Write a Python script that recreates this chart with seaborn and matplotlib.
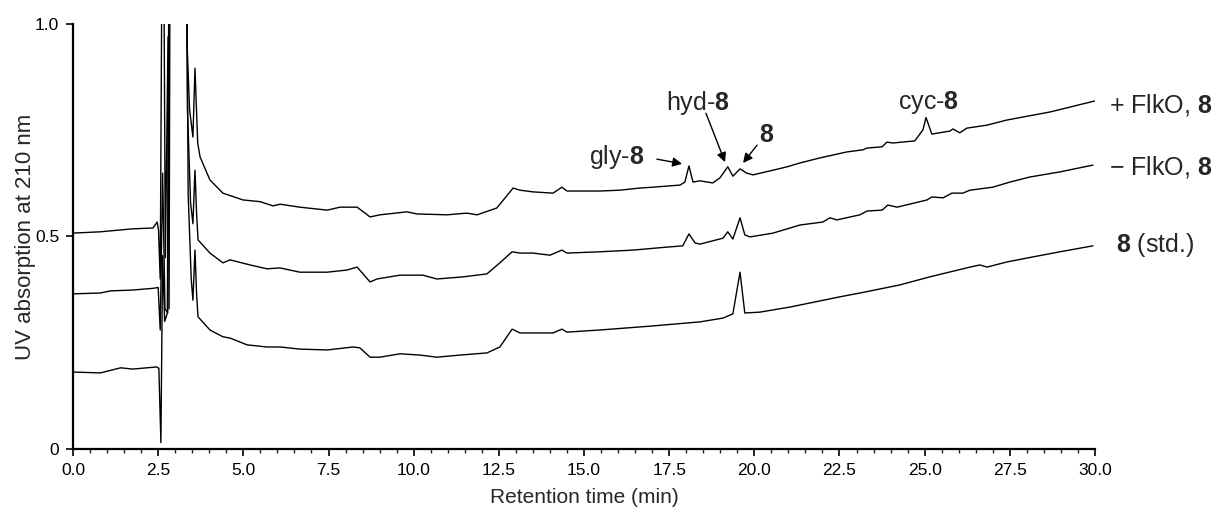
import matplotlib
matplotlib.use("Agg")
import matplotlib.pyplot as plt
import pandas as pd
import seaborn as sns

# retention time (min) and absorbance
# trace A: + FlkO, 8  (values > 1 are the off-scale solvent front)
t_a = [0.0, 0.8, 1.75, 2.35, 2.47, 2.51, 2.56, 2.64, 2.71, 2.79, 2.82, 2.86, 3.30, 3.35, 3.42,
       3.52, 3.58, 3.66, 3.73, 4.02, 4.40, 4.99, 5.49, 5.87, 6.08, 6.66, 7.46, 7.84, 8.34, 8.72,
       9.01, 9.80, 10.10, 10.98, 11.56, 11.86, 12.44, 12.92, 13.12, 13.50, 14.09, 14.35, 14.50,
       15.47, 16.06, 16.64, 17.02, 17.82, 17.96, 18.08, 18.20, 18.40, 18.78, 18.99, 19.22, 19.37,
       19.58, 19.78, 19.96, 20.55, 20.96, 21.34, 21.93, 22.72, 23.19, 23.30, 23.75, 23.89, 24.07,
       24.71, 24.95, 25.04, 25.21, 25.74, 25.83, 26.03, 26.24, 26.83, 27.41, 28.68, 30.0]
y_a = [0.508, 0.511, 0.518, 0.52, 0.534, 0.515, 0.40, 1.6, 0.45, 0.97, 0.33, 1.6, 1.6, 0.95, 0.80,
       0.734, 0.896, 0.72, 0.687, 0.633, 0.602, 0.586, 0.582, 0.572, 0.576, 0.569, 0.562, 0.569, 0.569, 0.546,
       0.551, 0.558, 0.553, 0.551, 0.555, 0.551, 0.567, 0.614, 0.609, 0.605, 0.602, 0.616, 0.607,
       0.607, 0.609, 0.614, 0.616, 0.621, 0.628, 0.666, 0.628, 0.631, 0.626, 0.638, 0.664, 0.642,
       0.659, 0.649, 0.645, 0.656, 0.664, 0.673, 0.685, 0.699, 0.704, 0.708, 0.711, 0.722, 0.720,
       0.725, 0.751, 0.78, 0.741, 0.748, 0.753, 0.744, 0.755, 0.762, 0.774, 0.793, 0.819]

# trace B: - FlkO, 8
t_b = [0.0, 0.8, 1.1, 1.75, 2.35, 2.50, 2.56, 2.63, 2.70, 2.78, 2.84, 3.30, 3.36, 3.45, 3.52,
       3.58, 3.63, 3.67, 4.02, 4.40, 4.61, 5.20, 5.69, 6.08, 6.66, 7.46, 8.04, 8.34, 8.72, 8.92,
       9.60, 10.27, 10.68, 11.45, 12.15, 12.53, 12.89, 13.12, 13.50, 14.00, 14.35, 14.50, 15.47,
       16.44, 17.43, 17.90, 18.08, 18.26, 18.40, 19.08, 19.22, 19.37, 19.58, 19.72, 19.87, 20.55,
       21.34, 22.01, 22.22, 22.42, 23.10, 23.31, 23.75, 23.92, 24.19, 25.07, 25.21, 25.54, 25.80,
       26.12, 26.33, 27.00, 27.50, 28.09, 28.97, 29.94]
y_b = [0.365, 0.367, 0.372, 0.374, 0.378, 0.380, 0.28, 0.649, 0.33, 0.32, 1.6, 1.6, 0.80, 0.58, 0.53,
       0.656, 0.55, 0.492, 0.461, 0.438, 0.445, 0.433, 0.424, 0.426, 0.416, 0.416, 0.421, 0.428, 0.393, 0.40,
       0.409, 0.409, 0.40, 0.405, 0.412, 0.438, 0.464, 0.461, 0.461, 0.456, 0.468, 0.461, 0.464,
       0.468, 0.475, 0.478, 0.506, 0.485, 0.482, 0.496, 0.511, 0.494, 0.544, 0.504, 0.499, 0.508,
       0.527, 0.534, 0.544, 0.539, 0.551, 0.560, 0.562, 0.574, 0.569, 0.586, 0.593, 0.591, 0.602,
       0.602, 0.609, 0.616, 0.628, 0.640, 0.652, 0.668]

# trace C: 8 (std.)
t_c = [0.0, 0.8, 1.4, 1.75, 2.45, 2.52, 2.58, 2.63, 2.69, 2.77, 2.84, 3.30, 3.38, 3.47, 3.52,
       3.58, 3.63, 3.67, 4.02, 4.40, 4.61, 5.11, 5.69, 6.08, 6.66, 7.46, 8.22, 8.42, 8.72, 9.01,
       9.60, 10.18, 10.68, 11.36, 12.15, 12.53, 12.89, 13.12, 13.50, 14.09, 14.35, 14.50, 15.47,
       16.94, 18.40, 19.08, 19.37, 19.58, 19.72, 20.16, 21.05, 22.51, 23.10, 24.27, 25.15, 26.33,
       26.62, 26.83, 27.41, 28.18, 28.97, 29.94]
y_c = [0.181, 0.179, 0.191, 0.188, 0.193, 0.19, 0.015, 0.455, 0.30, 0.32, 1.6, 1.6, 0.60, 0.40, 0.35,
       0.468, 0.36, 0.311, 0.28, 0.264, 0.261, 0.245, 0.24, 0.24, 0.235, 0.233, 0.24, 0.238, 0.216, 0.216,
       0.224, 0.221, 0.216, 0.221, 0.226, 0.24, 0.282, 0.273, 0.273, 0.273, 0.282, 0.275, 0.28,
       0.289, 0.299, 0.308, 0.318, 0.416, 0.32, 0.322, 0.334, 0.358, 0.367, 0.386, 0.405, 0.428,
       0.433, 0.428, 0.44, 0.452, 0.464, 0.478]

trace_labels = [r'+ FlkO, $\mathbf{8}$', r'− FlkO, $\mathbf{8}$', r'$\mathbf{8}$ (std.)']
x_ticks = [0.0, 2.5, 5.0, 7.5, 10.0, 12.5, 15.0, 17.5, 20.0, 22.5, 25.0, 27.5, 30.0]
y_ticks = [0, 0.5, 1.0]
y_tick_labels = ['0', '0.5', '1.0']

sns.set_style('ticks')
plt.rcParams['font.family'] = ['Liberation Sans', 'DejaVu Sans']
plt.rcParams['mathtext.fontset'] = 'custom'
plt.rcParams['mathtext.rm'] = 'Liberation Sans'
plt.rcParams['mathtext.bf'] = 'Liberation Sans:bold'

fig = plt.figure(figsize=(12.21, 5.14), dpi=100)
ax = fig.add_axes([0.0598, 0.1265, 0.837, 0.8268])

for t, y in [(t_a, y_a), (t_b, y_b), (t_c, y_c)]:
    df = pd.DataFrame({'t': t, 'y': y})
    sns.lineplot(data=df, x='t', y='y', estimator=None, sort=False,
                 color='black', lw=1.0, ax=ax)

ax.set_xlim(0, 30)
ax.set_ylim(0, 1)
ax.set_xticks(x_ticks)
ax.set_xticklabels([f'{v:.1f}' for v in x_ticks])
ax.set_xticks([i * 0.5 for i in range(61)], minor=True)
ax.set_yticks(y_ticks)
ax.set_yticklabels(y_tick_labels)
ax.tick_params(axis='both', which='major', direction='out', length=5, width=1.2,
               labelsize=12.5, pad=5, colors='black')
ax.tick_params(axis='x', which='minor', direction='out', length=3, width=1)
sns.despine(ax=ax)
for s in ['left', 'bottom']:
    ax.spines[s].set_linewidth(1.6)
    ax.spines[s].set_color('black')

ax.set_xlabel('Retention time (min)', fontsize=15)
ax.set_ylabel('UV absorption at 210 nm', fontsize=16)
ax.xaxis.set_label_coords(0.5, -0.092)
ax.yaxis.set_label_coords(-0.036, 0.5)

# labels at the end of each trace
ax.text(30.4, 0.809, trace_labels[0], fontsize=18, ha='left', va='center', clip_on=False)
ax.text(30.4, 0.664, trace_labels[1], fontsize=18, ha='left', va='center', clip_on=False)
ax.text(30.62, 0.48, trace_labels[2], fontsize=18, ha='left', va='center', clip_on=False)

# peak annotations
arrow = dict(arrowstyle='-|>', color='black', lw=1.0, mutation_scale=14, shrinkA=0, shrinkB=0)
ax.text(15.95, 0.687, r'gly-$\mathbf{8}$', fontsize=18, ha='center', va='center')
ax.annotate('', xy=(17.88, 0.671), xytext=(17.14, 0.682), arrowprops=arrow)
ax.text(18.34, 0.815, r'hyd-$\mathbf{8}$', fontsize=18, ha='center', va='center')
ax.annotate('', xy=(19.14, 0.675), xytext=(18.58, 0.79), arrowprops=arrow)
ax.text(20.37, 0.739, r'$\mathbf{8}$', fontsize=18, ha='center', va='center')
ax.annotate('', xy=(19.67, 0.673), xytext=(20.08, 0.715), arrowprops=arrow)
ax.text(25.1, 0.815, r'cyc-$\mathbf{8}$', fontsize=18, ha='center', va='center')

fig.savefig('out.png', dpi=100)
